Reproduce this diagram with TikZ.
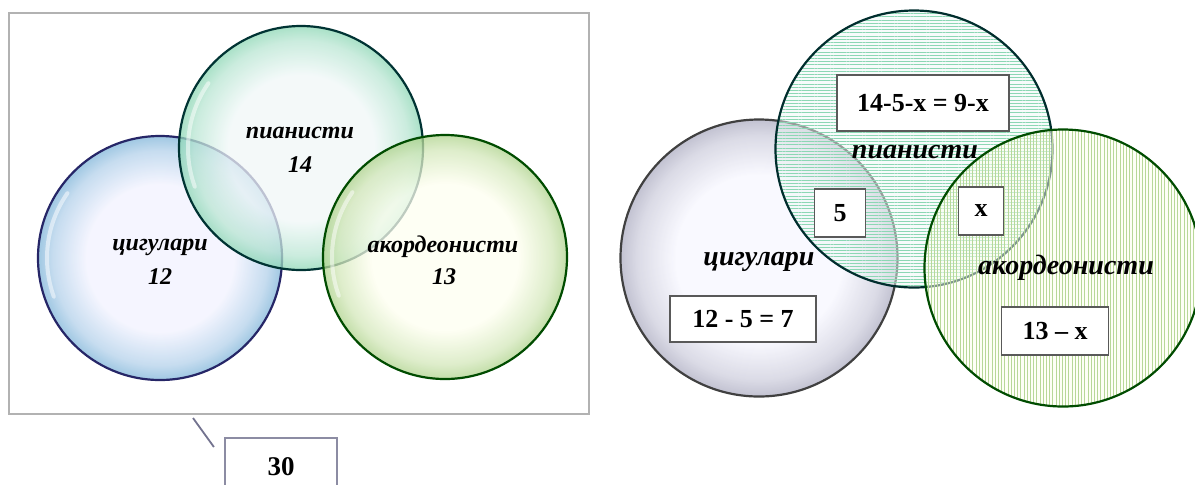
\documentclass[tikz,border=0pt]{standalone}
\usepackage{fontspec}
\setmainfont{Liberation Serif}
\usetikzlibrary{positioning, patterns.meta}

\colorlet{glassin}{white}
\colorlet{glassout}{gray}
\pgfdeclareradialshading[glassin,glassout]{glass}{\pgfpoint{0bp}{0bp}}{%
  color(0bp)=(glassin); color(15bp)=(glassin); color(22bp)=(glassout!55!glassin);
  color(25bp)=(glassout); color(50bp)=(glassout)}

\tikzset{
  setname/.style={font=\fontsize{12}{14}\selectfont\bfseries\itshape, inner sep=1pt},
  setnamebig/.style={font=\fontsize{14}{16}\selectfont\bfseries\itshape, inner sep=1pt},
  valbox/.style={draw=black!65, fill=white, line width=0.7pt, inner sep=0pt,
    font=\fontsize{13}{15}\selectfont\bfseries},
}

\begin{document}
\begin{tikzpicture}[x=0.5pt,y=-0.5pt]
\colorlet{vblue}{blue!40!cyan!70!black}
\colorlet{pteal}{teal!70!green}
\colorlet{agreen}{green!45!black!70!yellow}
\def\rL{122}
\def\rR{138.5}
\pgfmathsetmacro{\rh}{\rL-9}

\useasboundingbox (0,0) rectangle (1195,484);
\clip (0,0) rectangle (1195,484);

% left panel: the whole class
\coordinate (VL) at (160,258);
\coordinate (PL) at (301,148);
\coordinate (AL) at (445,257);
\draw[black!30, line width=0.9pt] (9,13) rectangle (589,414);

\foreach \c/\ci/\co/\cd in {VL/blue!5/vblue!50/blue!30!black!85,
                            PL/teal!6/pteal!45/teal!40!black,
                            AL/green!5!yellow!6/agreen!45/green!30!black} {
    \colorlet{glassin}{\ci}
    \colorlet{glassout}{\co}
    \shadedraw[shading=glass, fill opacity=.75, draw=\cd, line width=1.1pt]
        (\c) circle[radius=\rL];
    \draw[white, line width=2pt, opacity=.5, line cap=round]
        ([shift={(160:\rh)}]\c) arc[start angle=160, end angle=215, radius=\rh];
}

\node[setname] (vname) at (160,247) {цигулари};
\node[setname] (vnum) at (160,277) {12};
\node[setname] (pname) at (300,133) {пианисти};
\node[setname] (pnum) at (300,165) {14};
\node[setname] (aname) at (443,247) {акордеонисти};
\node[setname] (anum) at (444,277) {13};

\node[draw=blue!20!black!45, line width=1.1pt, minimum width=56pt,
      inner ysep=0pt, text height=18.5pt, text depth=25pt, anchor=north,
      font=\fontsize{13.5}{15}\selectfont\bfseries] (total) at (281,437) {30};
\coordinate (tail) at (193,418);
\draw[blue!20!black!55, line width=0.9pt] (tail) -- ([xshift=-5pt,yshift=-5pt]total.north west);

% right panel: solving for x
\coordinate (VR) at (759,258);
\coordinate (PR) at (914,149);
\coordinate (AR) at (1063,268);

\colorlet{glassin}{blue!3}
\colorlet{glassout}{blue!25!black!30}
\shadedraw[shading=glass, fill opacity=.8, draw=black!75, line width=1.1pt]
    (VR) circle[radius=\rR];
\fill[teal!6, fill opacity=.5] (PR) circle[radius=\rR];
\fill[pattern={Lines[angle=0, distance=1.6pt, line width=0.5pt]}, pattern color=pteal!45]
    (PR) circle[radius=\rR];
\draw[teal!35!black, line width=1.1pt] (PR) circle[radius=\rR];
\fill[green!5!yellow!6, fill opacity=.5] (AR) circle[radius=\rR];
\fill[pattern={Lines[angle=90, distance=1.6pt, line width=0.5pt]}, pattern color=agreen!40]
    (AR) circle[radius=\rR];
\draw[green!30!black, line width=1.1pt] (AR) circle[radius=\rR];

\node[setnamebig] (vname2) at (759,262) {цигулари};
\node[setnamebig] (pname2) at (915,152) {пианисти};
\node[setnamebig] (aname2) at (1066,268) {акордеонисти};

\node[valbox, minimum width=86pt, minimum height=28pt] (pbox) at (923,103) {14-5-x = 9-x};
\node[valbox, minimum width=25.5pt, minimum height=24pt] (vpbox) at (840,213) {5};
\node[valbox, minimum width=22.5pt, minimum height=24pt] (apbox) at (981,211) {x};
\node[valbox, minimum width=73pt, minimum height=23pt] (vbox) at (743,319) {12 - 5 = 7};
\node[valbox, minimum width=53.5pt, minimum height=24pt] (abox) at (1055,331) {13 – x};
\end{tikzpicture}
\end{document}
